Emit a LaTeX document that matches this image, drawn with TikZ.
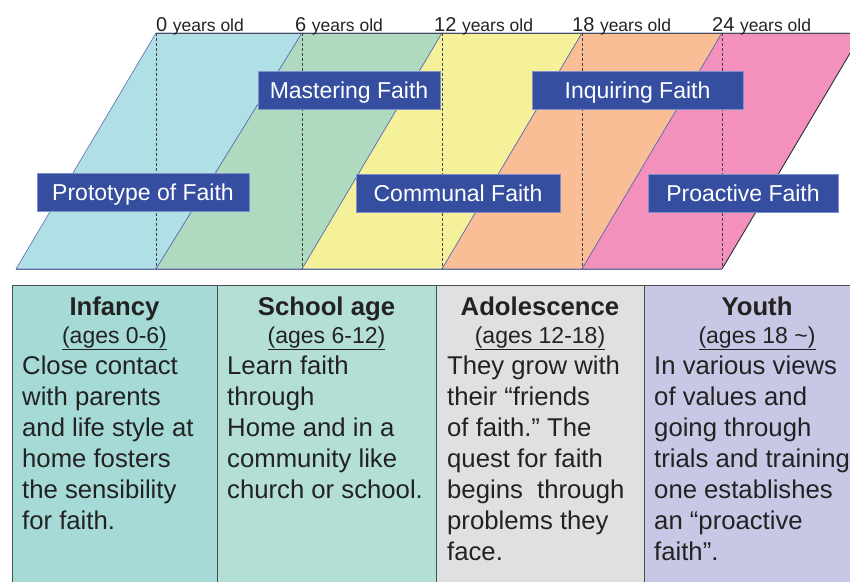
\documentclass[tikz,border=0pt]{standalone}
\usepackage{fontspec}
\setmainfont{Liberation Sans}
\frenchspacing
\definecolor{cblue}{HTML}{B0DFE5}
\definecolor{cgreen}{HTML}{B0DABF}
\definecolor{cyellow}{HTML}{F5F19A}
\definecolor{corange}{HTML}{F9BE96}
\definecolor{cpink}{HTML}{F391BC}
\definecolor{edgeblue}{HTML}{5A6AB4}
\definecolor{labelblue}{HTML}{354EA0}
\definecolor{labeledge}{HTML}{7F8FCB}
\definecolor{colA}{HTML}{A5DAD7}
\definecolor{colB}{HTML}{B4DFD6}
\definecolor{colC}{HTML}{DFE0E2}
\definecolor{colD}{HTML}{C8C8E6}
\definecolor{ink}{HTML}{222222}
\newcommand\myBody{\fontsize{25.7}{31}\selectfont}
\newcommand\myTitle{\fontsize{25.7}{31}\selectfont\bfseries}
\newcommand\myAges{\fontsize{23}{28}\selectfont}
\tikzset{
  band/.style={draw=edgeblue, line width=0.6pt},
  tick/.style={draw=black!75, line width=0.7pt, dash pattern=on 3pt off 2pt},
  stagebox/.style={fill=labelblue, draw=labeledge, line width=0.6pt, text=white,
    inner sep=0pt, minimum height=38pt, text height=16.5pt, text depth=0.5pt,
    font=\fontsize{23}{26}\selectfont},
  agelabel/.style={anchor=base west, inner sep=0pt, text=ink},
  coltitle/.style={anchor=base, inner sep=0pt, text=ink, font=\myTitle},
  colages/.style={anchor=base, inner sep=0pt, text=ink, font=\myAges},
  colbody/.style={anchor=base west, inner sep=0pt, text=ink},
  tableline/.style={draw=black!70, line width=0.8pt}
}
\begin{document}
\begin{tikzpicture}[x=1pt,y=-1pt]
\useasboundingbox (0,0) rectangle (850,581);
\begin{scope}
\clip (0,0) rectangle (850,581);
% bands
\filldraw[band, fill=cblue]   (16,269) -- (156,33) -- (302,33) -- (156,269) -- cycle;
\filldraw[band, fill=cgreen]  (156,269) -- (302,33) -- (442,33) -- (302,269) -- cycle;
\filldraw[band, fill=cyellow] (302,269) -- (442,33) -- (582,33) -- (442,269) -- cycle;
\filldraw[band, fill=corange] (442,269) -- (582,33) -- (722,33) -- (582,269) -- cycle;
\filldraw[band, fill=cpink]   (582,269) -- (722,33) -- (862,33) -- (722,269) -- cycle;
\draw[black!80, line width=0.8pt] (722,269) -- (862,33);
\draw[black!70, line width=0.8pt] (156,33) -- (850,33);
\draw[edgeblue!70!gray, line width=0.8pt] (16,269) -- (722,269);
% ticks
\foreach \x in {156,302,442,582,722} \draw[tick] (\x,33) -- (\x,269);
% age labels
\node[agelabel] (a0)  at (156,31) {\fontsize{20}{22}\selectfont 0 \fontsize{17.5}{22}\selectfont years old};
\node[agelabel] (a6)  at (295,31) {\fontsize{20}{22}\selectfont 6 \fontsize{17.5}{22}\selectfont years old};
\node[agelabel] (a12) at (434,31) {\fontsize{20}{22}\selectfont 12 \fontsize{17.5}{22}\selectfont years old};
\node[agelabel] (a18) at (572,31) {\fontsize{20}{22}\selectfont 18 \fontsize{17.5}{22}\selectfont years old};
\node[agelabel] (a24) at (712,31) {\fontsize{20}{22}\selectfont 24 \fontsize{17.5}{22}\selectfont years old};
% stage boxes
\node[stagebox, minimum width=212pt] (proto) at (143,192) {Prototype of Faith};
\node[stagebox, minimum width=182pt] (master) at (349,90) {Mastering Faith};
\node[stagebox, minimum width=204pt] (communal) at (458,193) {Communal Faith};
\node[stagebox, minimum width=211pt] (inquire) at (637.5,90) {Inquiring Faith};
\node[stagebox, minimum width=190pt] (proactive) at (743,193) {Proactive Faith};
% table
\fill[colA] (12,285) rectangle (217,600);
\fill[colB] (217,285) rectangle (436,600);
\fill[colC] (436,285) rectangle (644,600);
\fill[colD] (644,285) rectangle (870,600);
\draw[tableline] (12,600) -- (12,285) -- (870,285);
\draw[tableline] (217,285) -- (217,600);
\draw[tableline] (436,285) -- (436,600);
\draw[tableline] (644,285) -- (644,600);
% titles
\node[coltitle] (t1) at (114.5,315) {Infancy};
\node[coltitle] (t2) at (326.5,315) {School age};
\node[coltitle] (t3) at (540,315) {Adolescence};
\node[coltitle] (t4) at (757,315) {Youth};
\node[colages] (g1) at (114.5,343) {\underline{(ages 0-6)}};
\node[colages] (g2) at (326.5,343) {\underline{(ages 6-12)}};
\node[colages] (g3) at (540,343) {\underline{(ages 12-18)}};
\node[colages] (g4) at (757,343) {\underline{(ages 18 \textasciitilde)}};
% bodies
\node[colbody] (b1) at (22,374) {\parbox[t]{200pt}{\myBody\raggedright Close contact\\with parents\\and life style at\\home fosters\\the sensibility\\for faith.}};
\node[colbody] (b2) at (227,374) {\parbox[t]{210pt}{\myBody\raggedright Learn faith\\through\\Home and in a\\community like\\church or school.}};
\node[colbody] (b3) at (447,374) {\parbox[t]{200pt}{\myBody\raggedright They grow with\\their “friends\\of faith.” The\\quest for faith\\begins\ \ through\\problems they\\face.}};
\node[colbody] (b4) at (654,374) {\parbox[t]{220pt}{\myBody\raggedright In various views\\of values and\\going through\\trials and training\\one establishes\\an “proactive\\faith”.}};
\end{scope}
\end{tikzpicture}
\end{document}
